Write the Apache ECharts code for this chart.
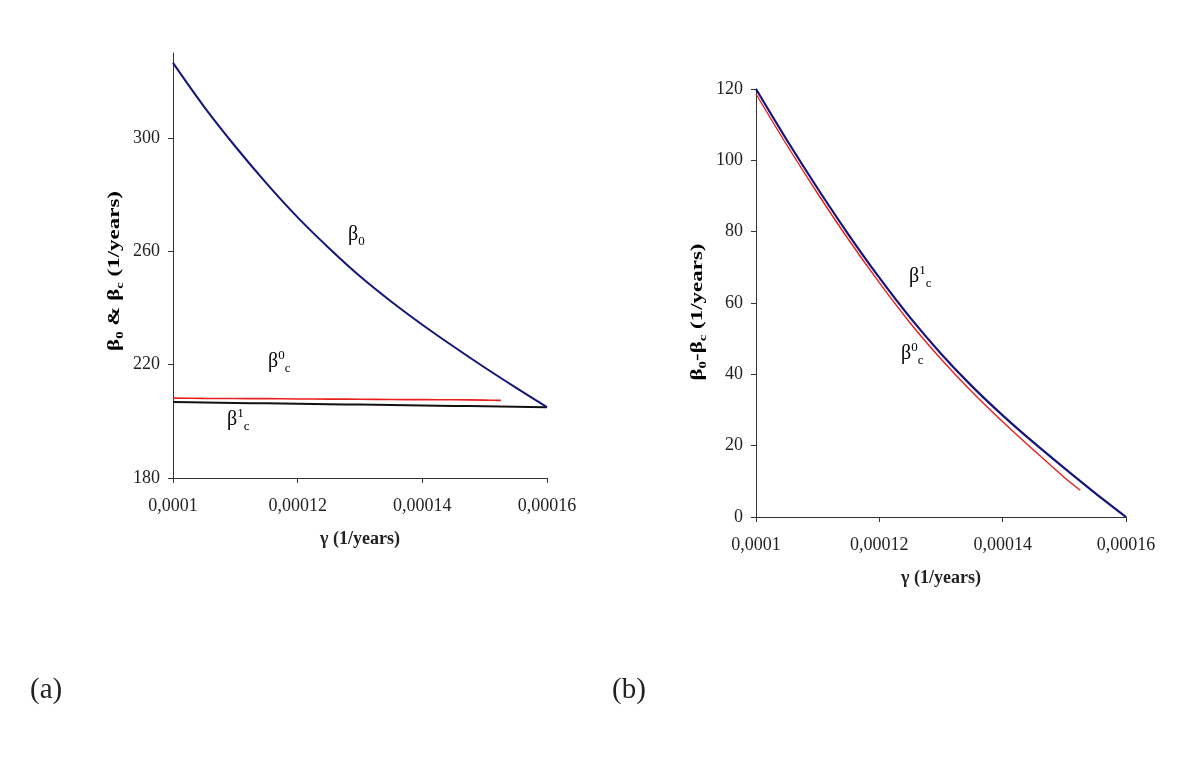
<!DOCTYPE html>
<html>
<head>
<meta charset="utf-8">
<script src="https://cdn.jsdelivr.net/npm/echarts@6/dist/echarts.min.js"></script>
<style>
html,body{margin:0;padding:0;background:#fff;}
#c{width:1200px;height:757px;}
</style>
</head>
<body>
<div id="c"></div>
<script>
// gamma (1/years)
const gamma   = [0.0001, 0.000105, 0.00011, 0.000115, 0.00012, 0.000125, 0.00013, 0.000135, 0.00014, 0.000145, 0.00015, 0.000155, 0.00016];
const gammaC0 = [0.0001, 0.000105, 0.00011, 0.000115, 0.00012, 0.000125, 0.00013, 0.000135, 0.00014, 0.000145, 0.00015, 0.0001526];
// panel (a)
const beta0   = [326.5, 311.0, 297.0, 284.0, 272.0, 261.2, 251.2, 242.3, 234.1, 226.4, 219.0, 211.9, 205.0];
const betaC1  = [206.8, 206.65, 206.5, 206.35, 206.2, 206.05, 205.9, 205.75, 205.6, 205.45, 205.3, 205.15, 205.0];
const betaC0  = [208.2, 208.1, 208.05, 208.0, 207.9, 207.85, 207.8, 207.7, 207.65, 207.6, 207.5, 207.4];
// panel (b)
const diffC1  = [120, 105.7, 92.1, 79.2, 67.1, 55.9, 45.8, 36.7, 28.5, 20.9, 13.7, 6.7, 0];
const diffC0  = [118.6, 104.3, 90.7, 77.8, 65.7, 54.4, 44.3, 35.1, 26.7, 18.8, 11.1, 7.5];
// ticks
const xTicks  = [0.0001, 0.00012, 0.00014, 0.00016];
const yTicksA = [180, 220, 260, 300];
const yTicksB = [0, 20, 40, 60, 80, 100, 120];

const pairs = (xs, ys) => ys.map((y, i) => [xs[i], y]);
const fmtX = v => Number(v.toPrecision(6)).toString().replace('.', ',');
const SERIF = '"Liberation Serif", "DejaVu Serif", serif';
const axisCol = '#333';
const BLUE = '#14147a', RED = '#e8201c', BLACK = '#111';

const richName = {
  t: {fontFamily: SERIF, fontWeight: 'bold', fontSize: 18, color: '#222', lineHeight: 22},
  s: {fontFamily: SERIF, fontWeight: 'bold', fontSize: 12, color: '#222', lineHeight: 12, verticalAlign: 'bottom'}
};
const richNameV = {
  t: {fontFamily: SERIF, fontWeight: 'bold', fontSize: 17, color: '#222', lineHeight: 21},
  s: {fontFamily: SERIF, fontWeight: 'bold', fontSize: 11, color: '#222', lineHeight: 11, verticalAlign: 'bottom'}
};
const richLbl = {
  b: {fontFamily: SERIF, fontSize: 20, color: '#222', lineHeight: 26},
  up: {fontFamily: SERIF, fontSize: 13, color: '#222', lineHeight: 13, verticalAlign: 'top'},
  dn: {fontFamily: SERIF, fontSize: 13, color: '#222', lineHeight: 13, verticalAlign: 'bottom'}
};

function xAxis(gi) {
  return {
    type: 'value', gridIndex: gi, min: 0.0001, max: 0.00016, interval: 0.00002,
    name: '{t|γ (1/years)}', nameLocation: 'middle', nameGap: 50,
    nameTextStyle: {rich: richName},
    axisLine: {lineStyle: {color: axisCol, width: 1}},
    axisTick: {show: true, length: 5, lineStyle: {color: axisCol}, customValues: xTicks},
    axisLabel: {color: '#222', fontFamily: SERIF, fontSize: 18, margin: 19, formatter: fmtX, customValues: xTicks},
    splitLine: {show: false}
  };
}
function yAxis(gi, min, max, interval, ticks) {
  return {
    type: 'value', gridIndex: gi, min: min, max: max, interval: interval,
    axisLine: {show: true, lineStyle: {color: axisCol, width: 1}},
    axisTick: {show: true, length: 5, lineStyle: {color: axisCol}, customValues: ticks},
    axisLabel: {color: '#222', fontFamily: SERIF, fontSize: 18, margin: 13, customValues: ticks},
    splitLine: {show: false}
  };
}
const line = (xi, xs, ys, color, width) => ({
  type: 'line', xAxisIndex: xi, yAxisIndex: xi, data: pairs(xs, ys), showSymbol: false,
  smooth: 0.3, lineStyle: {color: color, width: width}
});

const option = {
  animation: false,
  backgroundColor: '#fff',
  grid: [
    {left: 173, top: 53, width: 374, height: 425},
    {left: 756, top: 89, width: 370, height: 428}
  ],
  xAxis: [xAxis(0), xAxis(1)],
  yAxis: [yAxis(0, 180, 330, 40, yTicksA), yAxis(1, 0, 120, 20, yTicksB)],
  series: [
    line(0, gamma, betaC1, BLACK, 2),
    line(0, gammaC0, betaC0, RED, 1.6),
    line(0, gamma, beta0, BLUE, 2),
    line(1, gammaC0, diffC0, RED, 1.4),
    line(1, gamma, diffC1, BLUE, 2.2)
  ],
  graphic: [
    // axis titles (vertical)
    {type: 'text', x: 115, y: 271, rotation: Math.PI / 2, scaleX: 1.35,
     style: {text: '{t|β}{s|0}{t| & β}{s|c}{t| (1/years)}', rich: richNameV, align: 'center', verticalAlign: 'middle'}},
    {type: 'text', x: 698, y: 312, rotation: Math.PI / 2, scaleX: 1.35,
     style: {text: '{t|β}{s|0}{t|-β}{s|c}{t| (1/years)}', rich: richNameV, align: 'center', verticalAlign: 'middle'}},
    // curve labels
    {type: 'text', left: 348, top: 225, style: {text: '{b|β}{dn|0}', rich: richLbl}},
    {type: 'text', left: 268, top: 349, style: {text: '{b|β}{up|0}{dn|c}', rich: richLbl}},
    {type: 'text', left: 227, top: 407, style: {text: '{b|β}{up|1}{dn|c}', rich: richLbl}},
    {type: 'text', left: 909, top: 264, style: {text: '{b|β}{up|1}{dn|c}', rich: richLbl}},
    {type: 'text', left: 901, top: 341, style: {text: '{b|β}{up|0}{dn|c}', rich: richLbl}},
    // panel letters
    {type: 'text', left: 30, top: 676, style: {text: '(a)', fontFamily: SERIF, fontSize: 29, fill: '#222'}},
    {type: 'text', left: 612, top: 676, style: {text: '(b)', fontFamily: SERIF, fontSize: 29, fill: '#222'}}
  ]
};
echarts.init(document.getElementById('c'), null, {renderer: 'canvas'}).setOption(option);
</script>
</body>
</html>
